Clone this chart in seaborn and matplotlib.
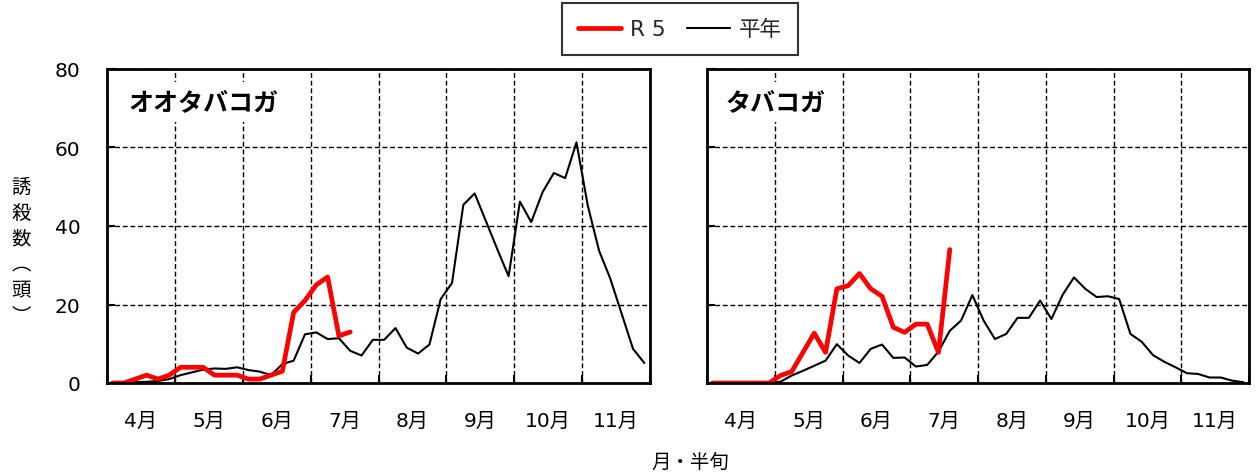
import numpy as np
import pandas as pd
import matplotlib
matplotlib.use("Agg")
import matplotlib.pyplot as plt
import seaborn as sns
from matplotlib.lines import Line2D

# ---------------- data ----------------
months = ["4月", "5月", "6月", "7月", "8月", "9月", "10月", "11月"]
series_names = ["R 5", "平年"]
panel_titles = ["オオタバコガ", "タバコガ"]

ootabako_r5 = [0, 0, 1, 2, 1, 2, 4, 4, 4, 2, 2, 2, 1, 1, 2, 3, 18, 21, 25, 27, 12, 13]
ootabako_avg = [0, 0, 0.2, 0.3, 0.5, 1, 2, 2.7, 3.4, 3.7, 3.6, 4,
                3.3, 2.9, 2, 4.8, 5.7, 12.4, 12.9, 11.2, 11.4, 8.2, 7, 11,
                11, 14, 9, 7.5, 9.8, 21.4, 25.5, 45.4, 48.3, 41.2, 34.1, 27.2,
                46.2, 41, 48.6, 53.5, 52.2, 61.3, 45.2, 33.7, 26.5, 17.6, 8.7, 5.1]

tabako_r5 = [0, 0, 0, 0, 0, 0, 1.9, 2.9, 7.8, 12.7, 7.8, 24, 24.8, 27.9, 24, 22.1,
             14.2, 12.9, 15, 15, 7.8, 34]
tabako_avg = [0, 0, 0, 0, 0, 0, 0.3, 1.9, 3.1, 4.4, 5.7, 9.9,
              7, 5.1, 8.7, 9.8, 6.4, 6.5, 4.2, 4.6, 8, 13.3, 15.9, 22.4,
              15.9, 11.2, 12.5, 16.6, 16.6, 21, 16.3, 22.5, 26.9, 24, 21.9, 22.1,
              21.4, 12.5, 10.5, 7.1, 5.4, 4, 2.5, 2.3, 1.4, 1.4, 0.6, 0.2]

yticks = [0, 20, 40, 60, 80]

# ---------------- style ----------------
sns.set_theme(style="white")
plt.rcParams["font.family"] = ["DejaVu Sans", "Noto Sans CJK JP"]

W, H = 1257, 477
fig = plt.figure(figsize=(W / 100, H / 100), dpi=100)
ax1 = fig.add_axes([107 / W, 93 / H, 543 / W, 314 / H])
ax2 = fig.add_axes([707 / W, 93 / H, 542 / W, 314 / H])

n_per_month = 6
n_points = len(months) * n_per_month

panels = [(ax1, ootabako_r5, ootabako_avg, panel_titles[0], 0.040),
          (ax2, tabako_r5, tabako_avg, panel_titles[1], 0.035)]

for i, (ax, r5, avg, title, tx) in enumerate(panels):
    df_avg = pd.DataFrame({"x": np.arange(len(avg)), "y": avg})
    df_r5 = pd.DataFrame({"x": np.arange(len(r5)), "y": r5})
    sns.lineplot(data=df_avg, x="x", y="y", ax=ax, color="black", linewidth=1.5)
    sns.lineplot(data=df_r5, x="x", y="y", ax=ax, color="#ff0000", linewidth=3.4)

    ax.set_xlim(-0.5, n_points - 0.5)
    ax.set_ylim(0, 80)
    ax.set_xlabel("")
    ax.set_ylabel("")

    ax.set_xticks(np.arange(-0.5, n_points, n_per_month))
    ax.set_xticklabels([])
    ax.set_xticks(np.arange(2.5, n_points, n_per_month), minor=True)
    ax.set_xticklabels(months, minor=True)
    ax.tick_params(axis="x", which="major", direction="in", length=6, width=1.5,
                   color="black", bottom=True, labelbottom=False)
    ax.tick_params(axis="x", which="minor", length=0, pad=20, labelsize=14.5,
                   labelcolor="black")

    ax.set_yticks(yticks)
    ax.tick_params(axis="y", direction="in", length=6, width=1.5, color="black",
                   left=True, pad=19, labelsize=14.5, labelcolor="black",
                   labelleft=(i == 0))

    ax.grid(True, which="major", color="black", linestyle=(0, (3.5, 2)), linewidth=1.0)
    for sp in ax.spines.values():
        sp.set_color("black")
        sp.set_linewidth(2)
        sp.set_visible(True)

    ax.text(tx, 0.895, title, transform=ax.transAxes, ha="left", va="center",
            fontsize=18, fontweight="bold", color="black",
            family=["Noto Sans CJK JP"],
            bbox=dict(facecolor="white", edgecolor="none", pad=6), zorder=4)

# legend
handles = [Line2D([], [], color="#ff0000", linewidth=3.4),
           Line2D([], [], color="black", linewidth=1.5)]
leg = fig.legend(handles, series_names, loc="center",
                 bbox_to_anchor=(680 / W, 1 - 30 / H), ncol=2, frameon=True,
                 fancybox=False, edgecolor="black", fontsize=15.5,
                 handlelength=2.0, columnspacing=1.0, handletextpad=0.4,
                 borderpad=0.75, borderaxespad=0)
leg.get_frame().set_linewidth(1.5)

# axis labels
fig.text(21 / W, 1 - 252 / H, "誘\n殺\n数\n︵\n頭\n︶", ha="center", va="center",
         fontsize=14, linespacing=1.3, family=["Noto Sans CJK JP"], color="black")
fig.text(690 / W, 1 - 462 / H, "月・半旬", ha="center", va="center", fontsize=14,
         family=["Noto Sans CJK JP"], color="black")

fig.savefig("out.png", dpi=100)
